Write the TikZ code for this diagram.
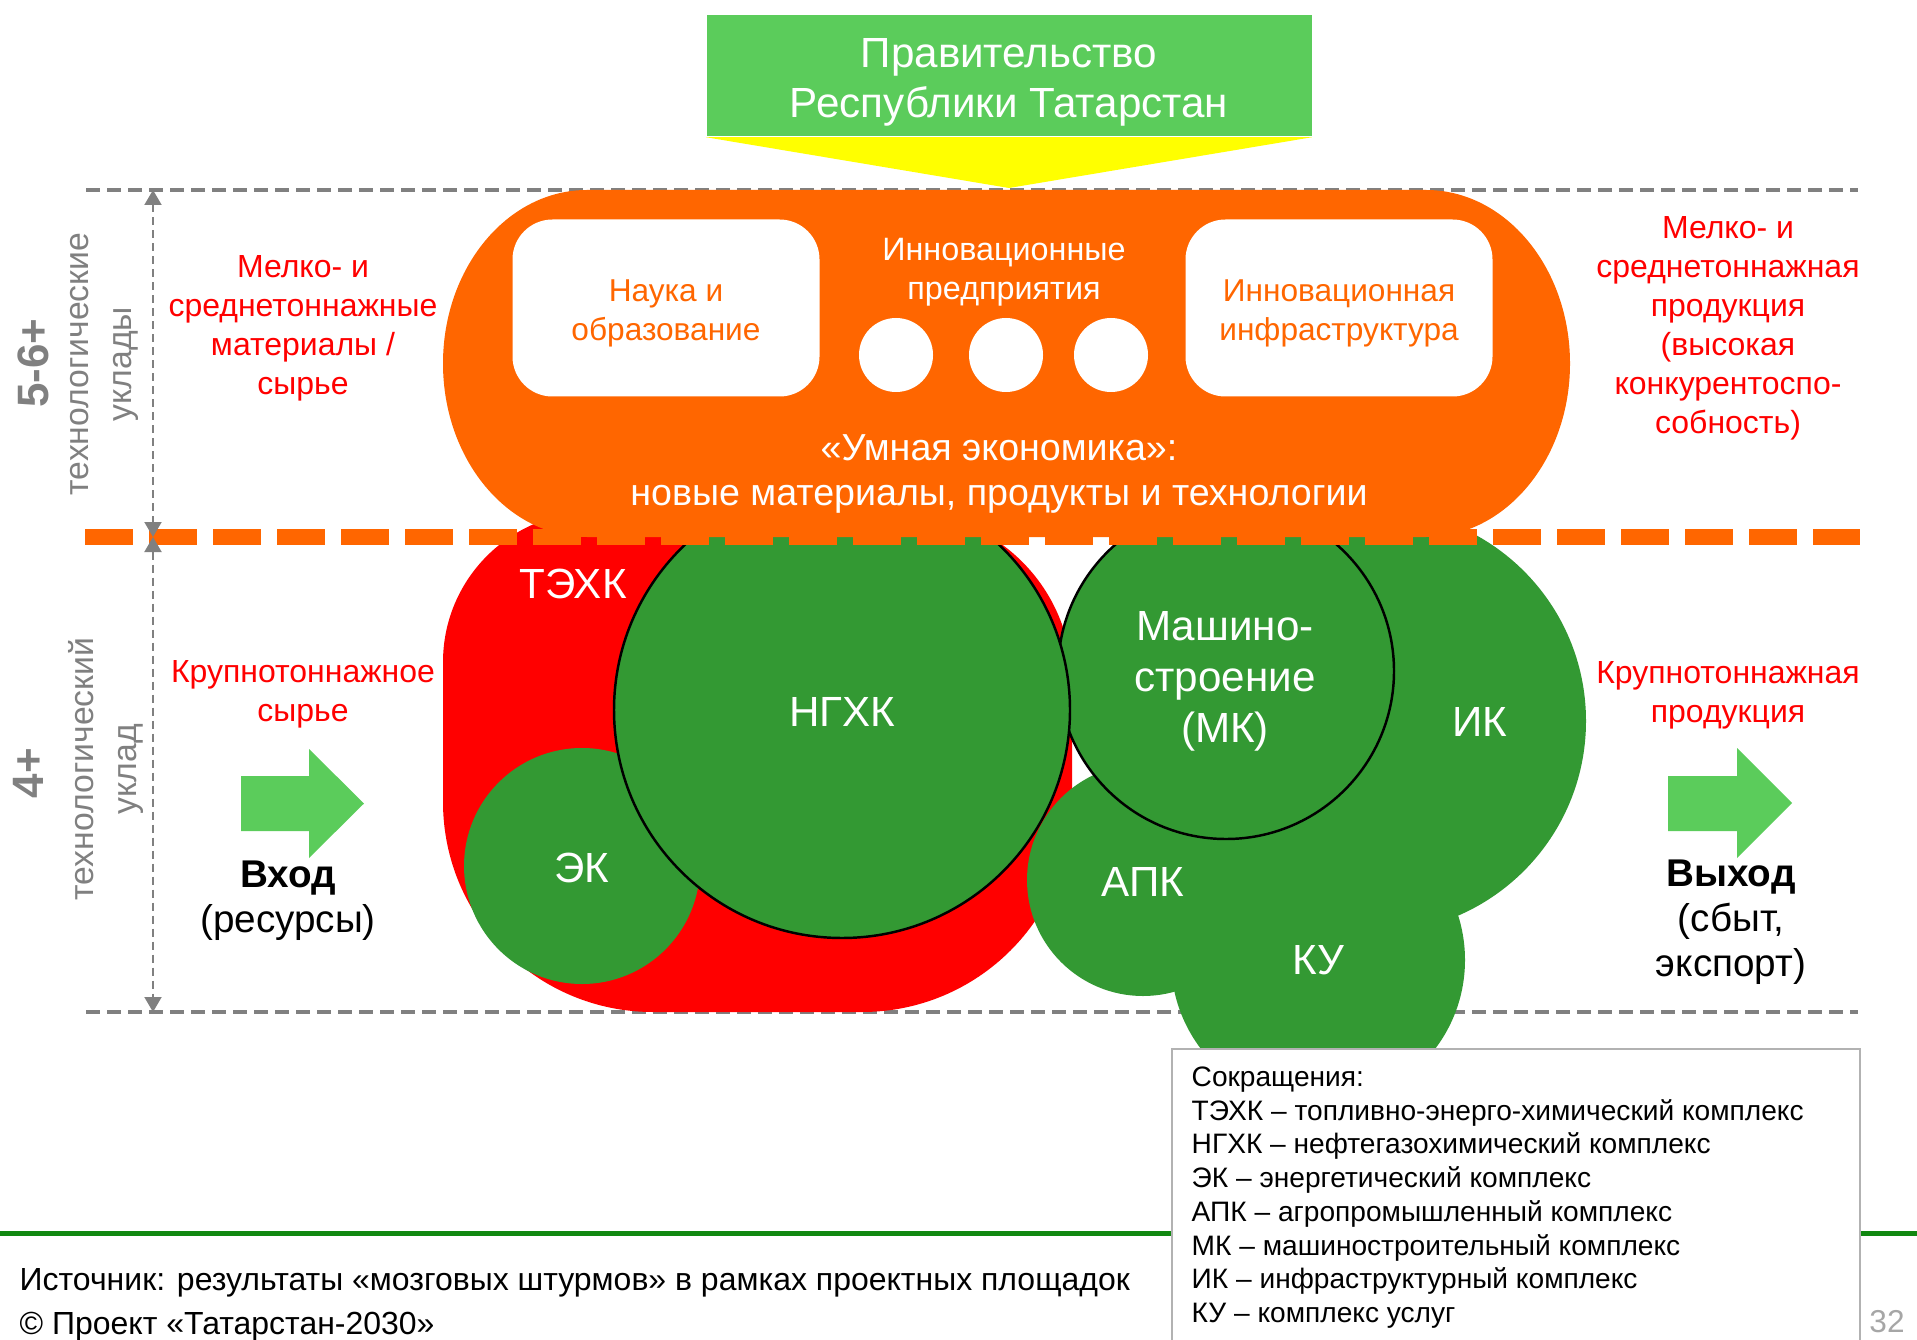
\documentclass[tikz,border=0pt]{standalone}
\usepackage{fontspec}
\setmainfont{Liberation Sans}
\usetikzlibrary{arrows.meta}
\definecolor{orng}{HTML}{FF6600}
\definecolor{tekred}{HTML}{FF0000}
\definecolor{cgreen}{HTML}{339933}
\definecolor{lgreen}{HTML}{5BCC5B}
\definecolor{ylw}{HTML}{FFFF00}
\definecolor{dgray}{HTML}{808080}
\definecolor{fgreen}{HTML}{118811}

\begin{document}
\begin{tikzpicture}[
  redtxt/.style={text=tekred, align=center, font=\fontsize{9.1}{11.1}\selectfont},
  whtxt/.style={text=white, align=center, font=\fontsize{12}{14.5}\selectfont},
  bltxt/.style={text=black, align=center, font=\fontsize{11}{12.8}\selectfont},
  sidetxt/.style={text=dgray, rotate=90, align=center, font=\fontsize{9.6}{12.2}\selectfont},
  sidenum/.style={text=dgray, rotate=90, font=\bfseries\fontsize{12.5}{14}\selectfont},
  gcirc/.style={circle, fill=cgreen, inner sep=0pt, text=white, align=center, font=\fontsize{12}{14.5}\selectfont},
  bcirc/.style={gcirc, draw=black, line width=0.7pt},
  wbox/.style={fill=white, rounded corners=0.4cm, minimum width=3.07cm, minimum height=1.77cm, text=orng, align=center, font=\fontsize{9}{11.1}\selectfont},
  ipdot/.style={circle, fill=white, minimum size=0.74cm, inner sep=0pt},
  gline/.style={dgray, line width=0.4mm, dash pattern=on 1.4mm off 0.7mm},
  oline/.style={orng, line width=1.6mm, dash pattern=on 4.8mm off 1.6mm},
  dimarr/.style={dgray, line width=0.2mm, dash pattern=on 0.8mm off 0.5mm, {Triangle[width=1.7mm,length=1.5mm]}-{Triangle[width=1.7mm,length=1.5mm]}},
  legtxt/.style={align=left, inner sep=0pt, font=\fontsize{8}{9.6}\selectfont},
  foottxt/.style={anchor=west, inner sep=0pt, font=\fontsize{9.1}{10.5}\selectfont}
]
\useasboundingbox (0,0) rectangle (19.17,-13.40);

\draw[gline] (0.86,-1.90) -- (18.58,-1.90);
\draw[gline] (0.86,-10.12) -- (18.58,-10.12);

\node[fill=lgreen, minimum width=6.05cm, minimum height=1.21cm, whtxt, font=\fontsize{12}{14.2}\selectfont] (gov) at (10.09,-0.76) {};
\node[whtxt, font=\fontsize{12}{14.2}\selectfont] (govtxt) at (10.09,-0.82) {Правительство\\Республики Татарстан};
\coordinate (apex) at (10.09,-1.88);
\fill[ylw] (gov.south west) -- (gov.south east) -- (apex) -- cycle;

\fill[tekred] (4.43,-6.62) arc[start angle=180, end angle=90, radius=1.5cm] -- (9.02,-5.12) arc[start angle=90, end angle=0, radius=1.7cm] -- (10.72,-8.02) arc[start angle=0, end angle=-90, radius=2.1cm] -- (6.53,-10.12) arc[start angle=270, end angle=180, radius=2.1cm] -- cycle;

\node[gcirc, minimum size=4.24cm] (ik) at (13.74,-7.21) {};
\node[gcirc, minimum size=2.94cm] (ku) at (13.18,-9.60) {КУ};
\node[gcirc, minimum size=2.32cm] (apk) at (11.43,-8.80) {};
\node[gcirc, minimum size=2.36cm] (ek) at (5.82,-8.66) {};
\node[bcirc, minimum size=3.36cm] (mk) at (12.26,-6.71) {};
\node[bcirc, minimum size=4.56cm] (ngxk) at (8.42,-7.10) {};
\node[whtxt] (ngxklbl) at (8.42,-7.12) {НГХК};
\node[whtxt] (eklbl) at (5.82,-8.68) {ЭК};
\node[whtxt] (apklbl) at (11.43,-8.82) {АПК};
\node[whtxt] (mklbl) at (12.25,-6.81) {Машино-\\строение\\(МК)};
\node[whtxt] (iklbl) at (14.80,-7.22) {ИК};
\node[whtxt] (tehk) at (5.73,-5.84) {ТЭХК};

\fill[orng] (5.87,-1.90) -- (14.26,-1.90) arc[start angle=90, end angle=-90, x radius=1.44cm, y radius=1.735cm] -- (5.87,-5.37) arc[start angle=270, end angle=90, x radius=1.44cm, y radius=1.735cm] -- cycle;
\node[wbox] (nauka) at (6.66,-3.08) {};
\node[wbox] (infra) at (13.39,-3.08) {};
\node[wbox, fill=none] (naukatxt) at (6.66,-3.13) {Наука и\\образование};
\node[wbox, fill=none] (infratxt) at (13.39,-3.13) {Инновационная\\инфраструктура};
\node[whtxt, font=\fontsize{9.2}{11.1}\selectfont] (innpr) at (10.04,-2.72) {Инновационные\\предприятия};
\node[ipdot] (ip1) at (8.96,-3.55) {};
\node[ipdot] (ip2) at (10.06,-3.55) {};
\node[ipdot] (ip3) at (11.11,-3.55) {};
\node[whtxt, font=\fontsize{10.7}{12.8}\selectfont] (smart) at (9.99,-4.74) {«Умная экономика»:\\новые материалы, продукты и технологии};

\draw[oline] (0.85,-5.37) -- (18.60,-5.37);

\node[sidenum] (n56) at (0.33,-3.63) {5-6+};
\node[sidetxt] (up56) at (1.04,-3.64) {технологические\\уклады};
\node[sidenum] (n4) at (0.28,-7.73) {4+};
\node[sidetxt] (up4) at (1.06,-7.69) {технологический\\уклад};

\node[redtxt] (lmat) at (3.03,-3.28) {Мелко- и\\среднетоннажные\\материалы /\\сырье};
\node[redtxt] (lraw) at (3.03,-6.94) {Крупнотоннажное\\сырье};
\fill[lgreen] (2.41,-7.76) -- (3.09,-7.76) -- (3.09,-7.49) -- (3.64,-8.035) -- (3.09,-8.58) -- (3.09,-8.31) -- (2.41,-8.31) -- cycle;
\node[bltxt] (vhod) at (2.88,-9.01) {\textbf{Вход}\\(ресурсы)};

\node[redtxt] (rprod) at (17.28,-3.28) {Мелко- и\\среднетоннажная\\продукция\\(высокая\\конкурентоспо-\\собность)};
\node[redtxt] (rbig) at (17.28,-6.95) {Крупнотоннажная\\продукция};
\fill[lgreen] (16.68,-7.76) -- (17.37,-7.76) -- (17.37,-7.48) -- (17.92,-8.03) -- (17.37,-8.58) -- (17.37,-8.31) -- (16.68,-8.31) -- cycle;
\node[bltxt] (vyhod) at (17.31,-9.22) {\textbf{Выход}\\(сбыт,\\экспорт)};

\draw[fgreen, line width=0.5mm] (0,-12.335) -- (19.17,-12.335);
\draw[draw=gray!60, fill=white, line width=0.7pt] (11.72,-10.49) rectangle (18.60,-13.70);
\node[legtxt, anchor=north west] (abbr) at (11.91,-10.66) {Сокращения:\\ТЭХК – топливно-энерго-химический комплекс\\НГХК – нефтегазохимический комплекс\\ЭК – энергетический комплекс\\АПК – агропромышленный комплекс\\МК – машиностроительный комплекс\\ИК – инфраструктурный комплекс\\КУ – комплекс услуг};
\node[foottxt] (src) at (0.19,-12.83) {Источник: результаты «мозговых штурмов» в рамках проектных площадок};
\node[foottxt] (copy) at (0.19,-13.27) {© Проект «Татарстан-2030»};
\node[text=gray!70, font=\fontsize{9}{10}\selectfont] (pnum) at (18.87,-13.22) {32};

\coordinate (d1) at (1.53,-1.90);
\coordinate (d2) at (1.53,-5.37);
\coordinate (d3) at (1.53,-10.12);
\draw[dimarr] (d1) -- (d2);
\draw[dimarr] (d2) -- (d3);
\end{tikzpicture}
\end{document}
